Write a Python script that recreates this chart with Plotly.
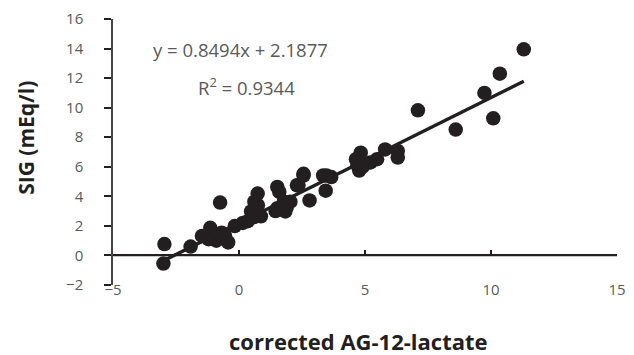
import plotly.graph_objects as go

# Data
ag_lactate = [-2.96, -3.0, -1.92, -1.47, -1.14, -1.21, -0.9, -0.75, -0.69, -0.55, -0.43, -0.17,
              0.15, 0.35, 0.48, 0.6, 0.61, 0.74, 0.75, 0.87, 1.45, 1.52, 1.52, 1.6, 1.78, 1.84,
              1.9, 2.04, 2.3, 2.36, 2.56, 2.56, 2.8, 3.34, 3.44, 3.47, 3.66, 4.64, 4.7, 4.77,
              4.83, 4.9, 5.0, 5.22, 5.48, 5.8, 6.3, 6.3, 7.1, 8.6, 9.74, 10.09, 10.35, 11.3]
sig = [0.77, -0.55, 0.6, 1.32, 1.87, 1.1, 1.0, 3.58, 1.54, 1.3, 0.88, 1.99,
       2.2, 2.32, 2.98, 2.6, 3.64, 4.19, 3.4, 2.65, 3.0, 4.64, 3.2, 4.3, 3.64, 2.98,
       3.3, 3.64, 4.75, 4.75, 5.52, 5.41, 3.72, 5.41, 4.38, 5.41, 5.3, 6.51, 6.1, 5.74,
       6.95, 6.0, 6.2, 6.29, 6.51, 7.17, 7.07, 6.62, 9.82, 8.52, 11.0, 9.28, 12.3, 13.95]

slope = 0.8494
intercept = 2.1877
r_squared = 0.9344

x_ticks = [-5, 0, 5, 10, 15]
x_ticktext = ["\u22125", "0", "5", "10", "15"]
y_ticks = [-2, 0, 2, 4, 6, 8, 10, 12, 14, 16]
y_ticktext = ["\u22122", "0", "2", "4", "6", "8", "10", "12", "14", "16"]

x_title = "corrected AG-12-lactate"
y_title = "SIG (mEq/l)"

ink = "#231f20"
grey = "#5a5a5a"
font_family = "Open Sans, Noto Sans, sans-serif"

fit_x = [min(ag_lactate), max(ag_lactate)]
fit_y = [slope * v + intercept for v in fit_x]

fig = go.Figure()
fig.add_trace(go.Scatter(x=ag_lactate, y=sig, mode="markers",
                         marker=dict(size=14.5, color=ink, line=dict(width=0)),
                         showlegend=False, hoverinfo="skip"))
fig.add_trace(go.Scatter(x=fit_x, y=fit_y, mode="lines",
                         line=dict(color=ink, width=3.5),
                         showlegend=False, hoverinfo="skip"))

tickfont = dict(family=font_family, size=15, color=grey)

zero_pos = (0 - y_ticks[0]) / (y_ticks[-1] - y_ticks[0])

fig.update_layout(
    width=634, height=355,
    margin=dict(l=113, r=8, t=13, b=70),
    paper_bgcolor="white", plot_bgcolor="white",
    # x axis crosses at y = 0, ticks point up, labels sit at the bottom
    xaxis=dict(range=[-5, 15], tickvals=x_ticks, ticktext=x_ticktext,
               anchor="free", position=zero_pos,
               showline=True, linecolor=ink, linewidth=1.5,
               showgrid=False, zeroline=False,
               ticks="inside", ticklen=5, tickcolor=ink, tickwidth=1.5,
               tickfont=tickfont, ticklabelstandoff=21,
               ticklabeloverflow="allow"),
    yaxis=dict(range=[-2, 16], tickvals=y_ticks, ticktext=y_ticktext,
               showline=True, linecolor="#444444", linewidth=1.5, ticks="outside",
               ticklen=7, tickcolor=ink, tickwidth=1.5,
               showgrid=False, zeroline=False, tickfont=tickfont,
               ticklabelstandoff=18),
)

# horizontal axis line through y = 0 across the full x domain
fig.add_shape(type="line", xref="x domain", x0=0, x1=1, yref="y", y0=0, y1=0,
              line=dict(color=ink, width=1.5), layer="below")

fig.add_annotation(text=f"y = {slope}x + {intercept}", xref="paper", yref="paper",
                   x=(243 - 113) / 513, y=1 - (44 - 13) / 272, showarrow=False,
                   xanchor="center", yanchor="middle",
                   font=dict(family=font_family, size=18.5, color=grey))
fig.add_annotation(text=f"R<sup>2</sup> = {r_squared}", xref="paper", yref="paper",
                   x=(249 - 113) / 513, y=1 - (82 - 13) / 272, showarrow=False,
                   xanchor="center", yanchor="middle",
                   font=dict(family=font_family, size=18.5, color=grey))
fig.add_annotation(text=f"<b>{y_title}</b>", xref="paper", yref="paper",
                   x=-(113 - 25) / 513, y=1 - (135 - 13) / 272, showarrow=False,
                   textangle=-90, xanchor="center", yanchor="middle",
                   font=dict(family=font_family, size=21, color=ink))
fig.add_annotation(text=f"<b>{x_title}</b>", xref="paper", yref="paper",
                   x=(363 - 113) / 513, y=-(342 - 285) / 272, showarrow=False,
                   xanchor="center", yanchor="middle",
                   font=dict(family=font_family, size=22, color=ink))

fig.write_html("out.html")
